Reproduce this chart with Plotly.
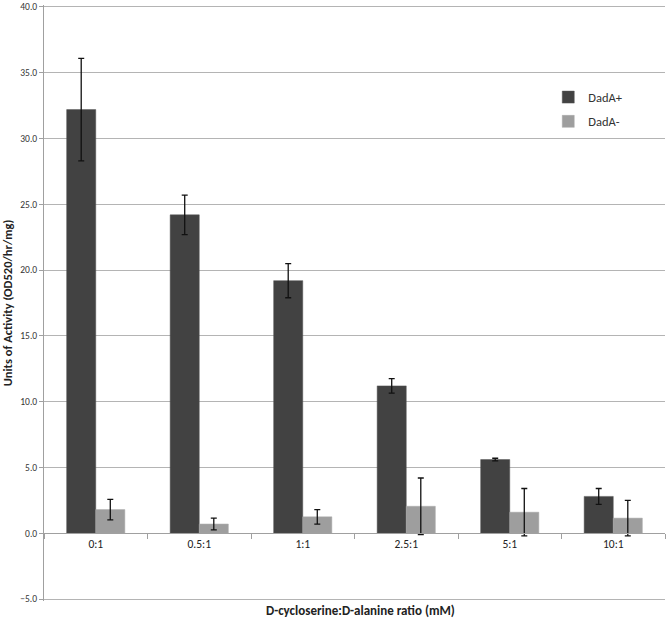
import plotly.graph_objects as go

categories = ["0:1", "0.5:1", "1:1", "2.5:1", "5:1", "10:1"]
dada_plus = [32.2, 24.2, 19.2, 11.2, 5.6, 2.8]
dada_plus_err = [3.9, 1.5, 1.3, 0.55, 0.1, 0.6]
dada_minus = [1.8, 0.7, 1.25, 2.05, 1.6, 1.15]
dada_minus_err = [0.78, 0.45, 0.55, 2.15, 1.8, 1.35]
y_ticks = [-5, 0, 5, 10, 15, 20, 25, 30, 35, 40]

FONT = "Carlito, Lato, 'Open Sans', sans-serif"
Y_LO, Y_HI = -5.15, 40.15

fig = go.Figure()
fig.add_trace(go.Bar(
    x=categories, y=dada_plus, name="DadA+", legendgroup="a",
    marker=dict(color="#424242", line=dict(color="#555555", width=0.5)),
    error_y=dict(type="data", array=dada_plus_err, visible=True,
                 color="#111111", thickness=1.3, width=3),
))
fig.add_trace(go.Bar(
    x=categories, y=dada_minus, name="DadA-", legendgroup="b",
    marker=dict(color="#9e9e9e", line=dict(color="#a8a8a8", width=0.5)),
    error_y=dict(type="data", array=dada_minus_err, visible=True,
                 color="#111111", thickness=1.3, width=3),
))

fig.update_layout(
    width=666, height=620,
    margin=dict(l=44, r=1, t=3, b=19),
    paper_bgcolor="white", plot_bgcolor="white",
    barmode="group", bargap=0.438, bargroupgap=0,
    font=dict(family=FONT, color="#222222"),
    showlegend=True,
    legend=dict(x=0.812, y=0.87, xanchor="left", yanchor="top",
                bgcolor="rgba(0,0,0,0)", font=dict(size=12.5, color="#333333"),
                traceorder="grouped", tracegroupgap=5,
                itemwidth=30),
    xaxis=dict(
        type="category", anchor="free", position=(0 - Y_LO) / (Y_HI - Y_LO),
        showline=True, linecolor="#a0a0a0", linewidth=1,
        ticks="outside", tickson="boundaries", ticklen=5, tickcolor="#a0a0a0",
        tickfont=dict(size=11.5, color="#222222"), showgrid=False,
    ),
    yaxis=dict(
        range=[Y_LO, Y_HI], tickvals=y_ticks, tickformat=".1f",
        ticklabeloverflow="allow",
        showgrid=True, gridcolor="#b4b4b4", gridwidth=1.2,
        zeroline=False, showline=True, linecolor="#a0a0a0", linewidth=1,
        ticks="outside", ticklen=4, tickcolor="#a0a0a0",
        tickfont=dict(size=9.5, color="#333333"),
        title=dict(text="<b>Units of Activity (OD520/hr/mg)</b>",
                   font=dict(size=12.5, color="#222222"), standoff=4),
    ),
    annotations=[dict(
        text="<b>D-cycloserine:D-alanine ratio (mM)</b>",
        xref="paper", yref="paper", x=0.509, y=0, yshift=-9,
        xanchor="center", yanchor="middle", showarrow=False,
        font=dict(size=13, color="#222222"),
    )],
)

fig.write_html("out.html", config={"displayModeBar": False},
               post_script="document.body.style.margin='0px';")
